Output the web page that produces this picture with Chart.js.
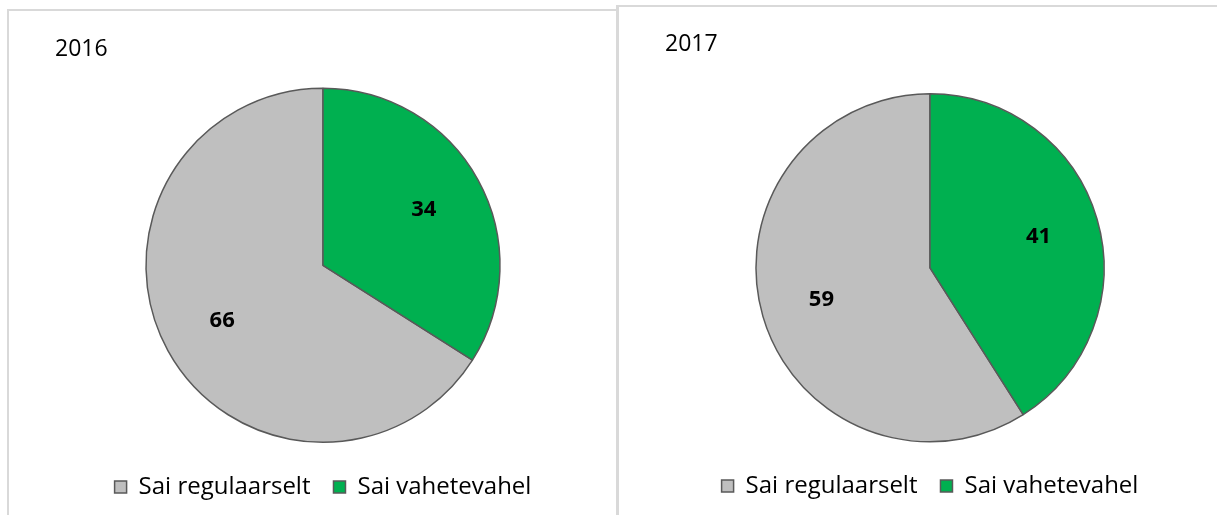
<!DOCTYPE html>
<html>
<head>
<meta charset="utf-8">
<script src="https://cdn.jsdelivr.net/npm/chart.js@4"></script>
<style>
  body { margin: 0; background: #fff; width: 1217px; height: 515px; overflow: hidden; position: relative; }
  .panel { position: absolute; border-top: 2px solid #d9d9d9; border-left: 2px solid #d9d9d9; box-sizing: border-box; }
  canvas { position: absolute; }
</style>
</head>
<body>
<div class="panel" style="left:7px; top:9px; width:612px; height:520px;"></div>
<div class="panel" style="left:616px; top:5px; width:610px; height:520px; border-left-width:3px;"></div>
<canvas id="c2016" width="608" height="505" style="left:8px; top:10px;"></canvas>
<canvas id="c2017" width="598" height="508" style="left:619px; top:7px;"></canvas>
<script>
// categories and values
const categories = ["Sai regulaarselt", "Sai vahetevahel"];
const values2016 = [66, 34];
const values2017 = [59, 41];
const years = ["2016", "2017"];

const colors = ["#bfbfbf", "#00b050"];
const fontFamily = "'Open Sans', 'Noto Sans', sans-serif";

// draw the values inside slices
const sliceLabels = {
  id: "sliceLabels",
  afterDatasetsDraw(chart) {
    const ctx = chart.ctx;
    const meta = chart.getDatasetMeta(0);
    ctx.save();
    ctx.font = "bold 22px " + fontFamily;
    ctx.fillStyle = "#000";
    ctx.textAlign = "center";
    ctx.textBaseline = "middle";
    meta.data.forEach((arc, i) => {
      const mid = (arc.startAngle + arc.endAngle) / 2;
      const r = arc.outerRadius * 0.65;
      ctx.fillText(chart.data.datasets[0].data[i], arc.x + Math.cos(mid) * r, arc.y + Math.sin(mid) * r);
    });
    ctx.restore();
  },
};

function makePie(id, title, values, radius, pad, titlePad) {
  new Chart(document.getElementById(id), {
    type: "pie",
    data: {
      labels: categories,
      datasets: [
        {
          data: values,
          backgroundColor: colors,
          borderColor: "#595959",
          borderWidth: 1.5,
          radius: radius,
        },
      ],
    },
    options: {
      responsive: false,
      animation: false,
      // the second slice is drawn first from 12 o'clock, so start the first after it
      rotation: (values[1] / (values[0] + values[1])) * 360,
      layout: { padding: pad },
      plugins: {
        title: {
          display: true,
          text: title,
          align: "start",
          color: "#000",
          font: { family: fontFamily, size: 23, weight: "normal" },
          padding: titlePad,
        },
        legend: {
          position: "bottom",
          labels: {
            color: "#000",
            boxWidth: 12,
            boxHeight: 12,
            padding: 23,
            font: { family: fontFamily, size: 24 },
          },
        },
        tooltip: { enabled: false },
      },
    },
    plugins: [sliceLabels],
  });
}

makePie("c2016", years[0], values2016, 177, { left: 47, right: 25, top: 0, bottom: 6 }, { top: 26, bottom: 15 });
makePie("c2017", years[1], values2017, 174, { left: 46, right: 22, top: 0, bottom: 7 }, { top: 24, bottom: 26 });
</script>
</body>
</html>
